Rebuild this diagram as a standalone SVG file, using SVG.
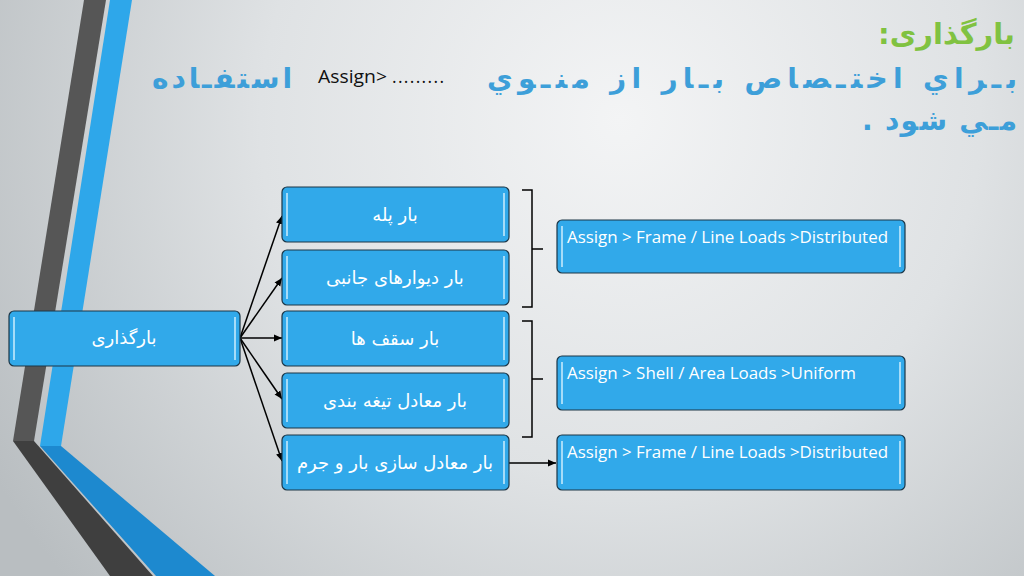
<svg xmlns="http://www.w3.org/2000/svg" width="1024" height="576" viewBox="0 0 1024 576">
<defs>
<radialGradient id="bg" cx="620" cy="120" r="720" gradientUnits="userSpaceOnUse">
<stop offset="0" stop-color="#f3f4f5"/>
<stop offset="0.5" stop-color="#dfe2e4"/>
<stop offset="1" stop-color="#b9bec1"/>
</radialGradient>
<marker id="ah" markerUnits="userSpaceOnUse" markerWidth="9" markerHeight="8" refX="8" refY="4" orient="auto">
<path d="M0,0.5 L8,4 L0,7.5 z" fill="#000"/>
</marker>
<style>
.box{fill:#31a9ea;stroke:#1c3647;stroke-width:1.2}
.hl{stroke:#a6dcf8;stroke-width:2;fill:none}
.ar{font-family:"DejaVu Sans",sans-serif;font-size:18px;fill:#ffffff;text-anchor:middle}
.en{font-family:"Open Sans","Liberation Sans",sans-serif;font-size:16px;fill:#ffffff}
.con{stroke:#000;stroke-width:1.5;fill:none}
.title{font-family:"DejaVu Sans",sans-serif;font-weight:bold;fill:#3d9fd9;font-size:28px}
.blk{font-family:"Open Sans","Liberation Sans",sans-serif;font-size:17.5px;fill:#111}
</style>
</defs>
<rect width="1024" height="576" fill="url(#bg)"/>
<!-- left decoration -->
<polygon points="84,0 106,0 34,441 13,441" fill="#565656"/>
<polygon points="110,0 132,0 61,446 40,446" fill="#2ea7ea"/>
<polygon points="13,441 34,441 153,576 110,576" fill="#3f3f3f"/>
<polygon points="40,446 61,446 215,576 156,576" fill="#1d89cf"/>
<!-- title -->
<text x="1015" y="44" direction="rtl" text-anchor="start" font-family="DejaVu Sans,sans-serif" font-weight="bold" font-size="29" fill="#80c241">بارگذاری:</text>
<text class="title" x="1017" y="88" direction="rtl" text-anchor="start" textLength="530" lengthAdjust="spacing">بـراي اختـصاص بـار  از منـوي</text>
<text class="blk" x="318" y="83" textLength="69" lengthAdjust="spacingAndGlyphs">Assign&gt;</text>
<text class="blk" x="392" y="83" textLength="52" lengthAdjust="spacing">.........</text>
<text class="title" x="292" y="88" direction="rtl" text-anchor="start" textLength="140" lengthAdjust="spacing">استفـاده</text>
<text class="title" x="1017" y="130" direction="rtl" text-anchor="start" textLength="155" lengthAdjust="spacing">مـي شود .</text>
<!-- connectors -->
<g id="connectors">
<line class="con" x1="240" y1="338" x2="282" y2="216" marker-end="url(#ah)"/>
<line class="con" x1="240" y1="338" x2="282" y2="278" marker-end="url(#ah)"/>
<line class="con" x1="240" y1="338" x2="282" y2="338" marker-end="url(#ah)"/>
<line class="con" x1="240" y1="338" x2="282" y2="399" marker-end="url(#ah)"/>
<line class="con" x1="240" y1="338" x2="282" y2="461" marker-end="url(#ah)"/>
<line class="con" x1="509" y1="463" x2="556" y2="463" marker-end="url(#ah)"/>
<path class="con" d="M522,190 H532 V307 H522 M532,249 H543"/>
<path class="con" d="M522,321 H532 V437 H522 M532,379 H543"/>
</g>
<!-- nodes -->
<g id="n-root">
<rect class="box" x="9" y="311" width="231" height="55" rx="5"/>
<path class="hl" d="M14,317 V360 M235,317 V360"/>
<text class="ar" x="124" y="344" direction="rtl" font-size="17">بارگذاری</text>
</g>
<g id="n-stairs">
<rect class="box" x="282" y="187" width="227" height="55" rx="5"/>
<path class="hl" d="M287,193 V236 M504,193 V236"/>
<text class="ar" x="395" y="221" direction="rtl">بار پله</text>
</g>
<g id="n-walls">
<rect class="box" x="282" y="250" width="227" height="55" rx="5"/>
<path class="hl" d="M287,256 V299 M504,256 V299"/>
<text class="ar" x="395" y="284" direction="rtl">بار دیوارهای جانبی</text>
</g>
<g id="n-slabs">
<rect class="box" x="282" y="311" width="227" height="55" rx="5"/>
<path class="hl" d="M287,317 V360 M504,317 V360"/>
<text class="ar" x="395" y="345" direction="rtl">بار سقف ها</text>
</g>
<g id="n-partition">
<rect class="box" x="282" y="373" width="227" height="55" rx="5"/>
<path class="hl" d="M287,379 V422 M504,379 V422"/>
<text class="ar" x="395" y="407" direction="rtl">بار معادل تیغه بندی</text>
</g>
<g id="n-mass">
<rect class="box" x="282" y="435" width="227" height="55" rx="5"/>
<path class="hl" d="M287,441 V484 M504,441 V484"/>
<text class="ar" x="395" y="469" direction="rtl">بار معادل سازی بار و جرم</text>
</g>
<g id="n-frame1">
<rect class="box" x="557" y="220" width="348" height="53" rx="5"/>
<path class="hl" d="M562,226 V267 M900,226 V267"/>
<text class="en" x="567" y="243" textLength="321" lengthAdjust="spacingAndGlyphs">Assign &gt; Frame / Line Loads &gt;Distributed</text>
</g>
<g id="n-shell">
<rect class="box" x="557" y="356" width="348" height="54" rx="5"/>
<path class="hl" d="M562,362 V404 M900,362 V404"/>
<text class="en" x="567" y="379" textLength="289" lengthAdjust="spacingAndGlyphs">Assign &gt; Shell / Area Loads &gt;Uniform</text>
</g>
<g id="n-frame2">
<rect class="box" x="557" y="435" width="348" height="55" rx="5"/>
<path class="hl" d="M562,441 V484 M900,441 V484"/>
<text class="en" x="567" y="458" textLength="321" lengthAdjust="spacingAndGlyphs">Assign &gt; Frame / Line Loads &gt;Distributed</text>
</g>
</svg>
